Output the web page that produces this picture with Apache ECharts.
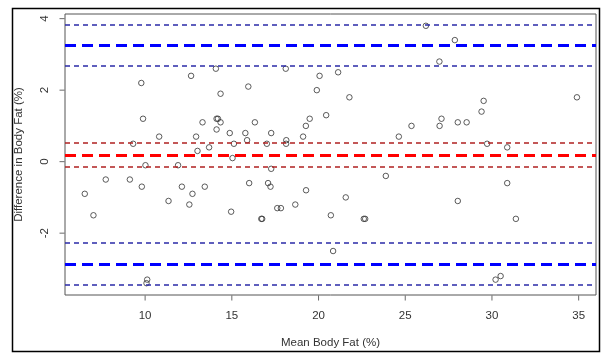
<!DOCTYPE html>
<html>
<head>
<meta charset="utf-8">
<script src="https://cdn.jsdelivr.net/npm/echarts@6/dist/echarts.min.js"></script>
<style>
html,body{margin:0;padding:0;background:#fff;}
#chart{width:608px;height:362px;}
</style>
</head>
<body>
<div id="chart"></div>
<script>
// Mean body fat (%) and difference in body fat (%)
const meanBodyFat = [6.52,7.02,7.73,9.12,9.31,9.78,9.88,9.81,10.02,10.12,10.08,10.81,11.35,11.90,12.12,12.55,12.65,12.73,12.94,13.02,13.31,13.44,13.69,14.08,14.12,14.20,14.12,14.35,14.35,14.88,15.04,14.96,15.12,15.78,15.88,15.95,16.00,16.33,16.70,16.75,17.02,17.09,17.23,17.27,17.27,17.62,17.83,18.11,18.14,18.13,18.66,19.11,19.27,19.28,19.49,19.90,20.06,20.44,20.71,20.84,21.13,21.57,21.78,22.61,22.69,23.88,24.63,25.36,26.19,26.97,26.98,27.09,27.86,28.03,28.03,28.54,29.40,29.52,29.72,30.21,30.50,30.88,30.88,31.38,34.90];
const diffBodyFat = [-0.9,-1.5,-0.5,-0.5,0.5,2.2,1.2,-0.7,-0.1,-3.3,-3.4,0.7,-1.1,-0.1,-0.7,-1.2,2.4,-0.9,0.7,0.3,1.1,-0.7,0.4,2.6,1.2,1.2,0.9,1.9,1.1,0.8,0.1,-1.4,0.5,0.8,0.6,2.1,-0.6,1.1,-1.6,-1.6,0.5,-0.6,-0.7,0.8,-0.2,-1.3,-1.3,2.6,0.6,0.5,-1.2,0.7,1.0,-0.8,1.2,2.0,2.4,1.3,-1.5,-2.5,2.5,-1.0,1.8,-1.6,-1.6,-0.4,0.7,1.0,3.8,2.8,1.0,1.2,3.4,1.1,-1.1,1.1,1.4,1.7,0.5,-3.3,-3.2,0.4,-0.6,-1.6,1.8];

// Bland-Altman reference lines
const meanDiff = [0.19];
const meanDiffCI = [0.54, -0.13];
const limitsOfAgreement = [3.25, -2.87];
const limitsCI = [3.84, 2.67, -2.27, -3.44];

// Axis ticks
const xTicks = [10, 15, 20, 25, 30, 35];
const yTicks = [-2, 0, 2, 4];

const xMin = 5.38, xMax = 36.0, yMin = -3.73, yMax = 4.13;

const points = meanBodyFat.map((x, i) => [x, diffBodyFat[i]]);

const hline = (v, color, width, dash) => ({
  yAxis: v,
  lineStyle: { color: color, width: width, type: dash }
});

const markData = []
  .concat(limitsCI.map(v => hline(v, '#2a2aa8', 1.5, [5, 4])))
  .concat(limitsOfAgreement.map(v => hline(v, '#0000ff', 3, [11, 6])))
  .concat(meanDiffCI.map(v => hline(v, '#b02020', 1.5, [5, 4])))
  .concat(meanDiff.map(v => hline(v, '#ff0000', 3, [11, 6])));

const textColor = '#333';
const font = 'Liberation Sans, Arial, sans-serif';
const tickColor = '#444';

const chart = echarts.init(document.getElementById('chart'), null, { renderer: 'canvas' });
chart.setOption({
  backgroundColor: '#fff',
  animation: false,
  graphic: [{
    type: 'rect',
    shape: { x: 12.5, y: 8.5, width: 587, height: 343 },
    style: { fill: 'none', stroke: '#000', lineWidth: 1.5 },
    silent: true
  }],
  grid: {
    left: 65, top: 14, width: 531, height: 281,
    show: true, borderColor: '#555', borderWidth: 1, backgroundColor: 'transparent'
  },
  xAxis: {
    type: 'value', min: xMin, max: xMax,
    name: 'Mean Body Fat (%)', nameLocation: 'middle', nameGap: 42,
    nameTextStyle: { color: textColor, fontSize: 11.5, fontFamily: font },
    axisLine: { show: false },
    axisTick: { show: false },
    axisLabel: { customValues: xTicks, color: textColor, fontSize: 11.5, fontFamily: font, margin: 15 },
    splitLine: { show: false }
  },
  yAxis: {
    type: 'value', min: yMin, max: yMax,
    name: 'Difference in Body Fat (%)', nameLocation: 'middle', nameGap: 40, nameRotate: 90,
    nameTextStyle: { color: textColor, fontSize: 11.5, fontFamily: font },
    axisLine: { show: false },
    axisTick: { show: false },
    axisLabel: { customValues: yTicks, color: textColor, fontSize: 11.5, fontFamily: font, rotate: 90, margin: 14 },
    splitLine: { show: false }
  },
  series: [{
    type: 'scatter',
    data: points,
    symbol: 'circle',
    symbolSize: 5.5,
    itemStyle: { color: 'rgba(255,255,255,0)', borderColor: '#333', borderWidth: 1 },
    markLine: {
      silent: true,
      symbol: 'none',
      label: { show: false },
      data: markData
    }
  }, {
    // x axis tick marks, placed on the axis scale
    type: 'scatter', silent: true, clip: false,
    data: xTicks.map(v => [v, yMin]),
    symbol: 'rect', symbolSize: [1, 5], symbolOffset: [0, 3],
    itemStyle: { color: tickColor }
  }, {
    // y axis tick marks
    type: 'scatter', silent: true, clip: false,
    data: yTicks.map(v => [xMin, v]),
    symbol: 'rect', symbolSize: [5, 1], symbolOffset: [-3, 0],
    itemStyle: { color: tickColor }
  }]
});
</script>
</body>
</html>
